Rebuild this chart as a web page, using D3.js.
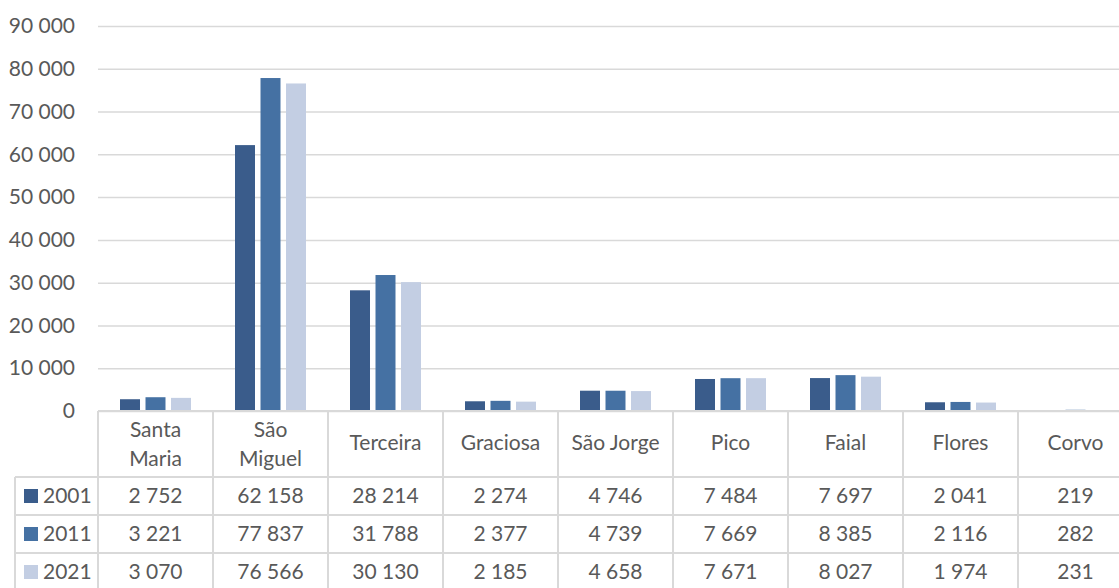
<!DOCTYPE html>
<html>
<head>
<meta charset="utf-8">
<script src="https://cdn.jsdelivr.net/npm/d3@7"></script>
<style>
  body { margin: 0; background: #fff; }
  svg text { font-family: Lato, "Open Sans", sans-serif; fill: #595959; }
</style>
</head>
<body>
<div id="chart"></div>
<script>
// Dados
const islands = ["Santa Maria", "São Miguel", "Terceira", "Graciosa", "São Jorge", "Pico", "Faial", "Flores", "Corvo"];
const years = ["2001", "2011", "2021"];
const pop2001 = [2752, 62158, 28214, 2274, 4746, 7484, 7697, 2041, 219];
const pop2011 = [3221, 77837, 31788, 2377, 4739, 7669, 8385, 2116, 282];
const pop2021 = [3070, 76566, 30130, 2185, 4658, 7671, 8027, 1974, 231];
const yTicks = [0, 10000, 20000, 30000, 40000, 50000, 60000, 70000, 80000, 90000];
const colors = ["#3a5c8b", "#4571a3", "#c3cee3"];

const series = [pop2001, pop2011, pop2021];

const W = 1119, H = 588;
const plotLeft = 98, colW = 115;
const plotTop = 26, base = 411;

const locale = d3.formatLocale({ decimal: ",", thousands: " ", grouping: [3], currency: ["", ""] });
const fmt = locale.format(",d");

const svg = d3.select("#chart").append("svg")
    .attr("width", W)
    .attr("height", H);

// Escalas
const x0 = d3.scaleBand()
    .domain(islands)
    .range([plotLeft, plotLeft + colW * islands.length])
    .padding(0);

const x1 = d3.scaleBand()
    .domain(years)
    .range([22, 93])
    .paddingInner(0.216)
    .paddingOuter(0);

const y = d3.scaleLinear()
    .domain([0, 90000])
    .range([base, plotTop]);

// Eixo Y + grelha
const yAxis = svg.append("g")
    .attr("transform", `translate(${plotLeft},0)`)
    .call(d3.axisLeft(y)
        .tickValues(yTicks)
        .tickSizeInner(-(W - plotLeft))
        .tickSizeOuter(0)
        .tickPadding(23)
        .tickFormat(fmt));
yAxis.select(".domain").remove();
yAxis.selectAll(".tick line")
    .attr("stroke", "#d9d9d9")
    .attr("stroke-width", 1.5);
yAxis.selectAll(".tick text")
    .style("font-size", "21px")
    .attr("fill", "#595959");

// Barras
const groups = svg.selectAll(".grp")
    .data(islands)
    .enter().append("g")
    .attr("class", "grp")
    .attr("transform", d => `translate(${x0(d)},0)`);

groups.selectAll("rect")
    .data((d, i) => years.map((yr, j) => ({ yr, v: series[j][i], c: colors[j] })))
    .enter().append("rect")
    .attr("x", d => x1(d.yr))
    .attr("y", d => y(d.v))
    .attr("width", x1.bandwidth())
    .attr("height", d => base - y(d.v))
    .attr("fill", d => d.c);

// Tabela de dados
const headerBottom = 477, rowH = 38;
const tableLeft = 15;
const grid = svg.append("g").attr("stroke", "#d9d9d9").attr("stroke-width", 2);

grid.append("line").attr("x1", plotLeft).attr("x2", W).attr("y1", base).attr("y2", base);
for (let r = 0; r <= 3; r++) {
    const yy = headerBottom + r * rowH;
    grid.append("line").attr("x1", tableLeft).attr("x2", W).attr("y1", yy).attr("y2", yy);
}
islands.forEach(d => {
    grid.append("line").attr("x1", x0(d)).attr("x2", x0(d)).attr("y1", base).attr("y2", H);
});
grid.append("line").attr("x1", tableLeft).attr("x2", tableLeft).attr("y1", headerBottom).attr("y2", H);

// Cabeçalhos
islands.forEach(d => {
    const cx = x0(d) + colW / 2;
    const words = d.split(" ");
    const lines = (d === "Santa Maria" || d === "São Miguel") ? words : [d];
    const t = svg.append("text")
        .attr("text-anchor", "middle")
        .style("font-size", "21px");
    if (lines.length === 1) {
        t.append("tspan").attr("x", cx).attr("y", 443).attr("dy", "0.35em").text(lines[0]);
    } else {
        lines.forEach((l, k) => {
            t.append("tspan").attr("x", cx).attr("y", 430 + k * 29).attr("dy", "0.35em").text(l);
        });
    }
});

// Linhas de valores + legenda
years.forEach((yr, j) => {
    const cy = headerBottom + j * rowH + rowH / 2;
    svg.append("rect")
        .attr("x", 24).attr("y", cy - 7)
        .attr("width", 14).attr("height", 14)
        .attr("fill", colors[j]);
    svg.append("text")
        .attr("x", 43).attr("y", cy).attr("dy", "0.35em")
        .style("font-size", "21px")
        .text(yr);
    islands.forEach((d, i) => {
        svg.append("text")
            .attr("x", x0(d) + colW / 2)
            .attr("y", cy).attr("dy", "0.35em")
            .attr("text-anchor", "middle")
            .style("font-size", "21px")
            .text(fmt(series[j][i]));
    });
});
</script>
</body>
</html>
